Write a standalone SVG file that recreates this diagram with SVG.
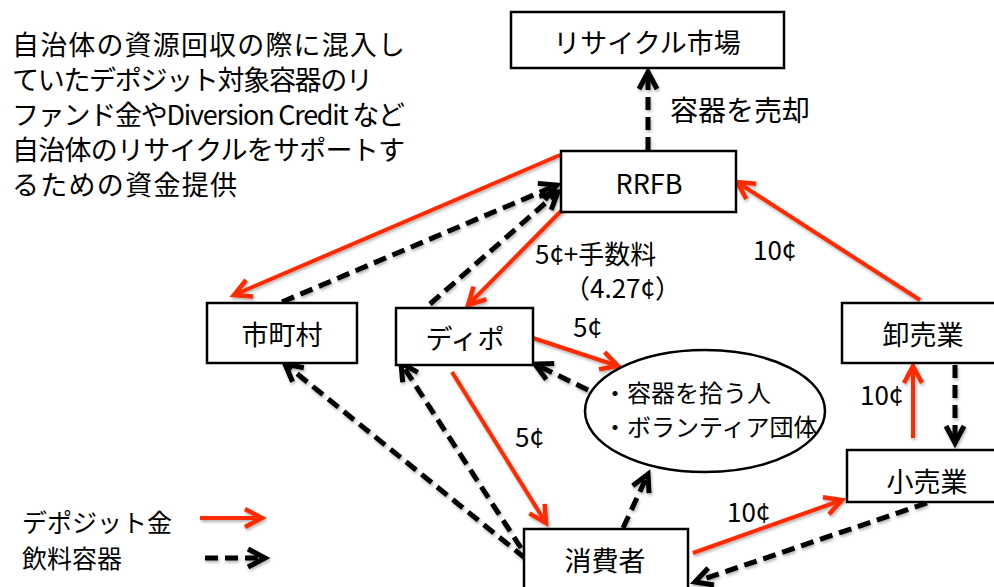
<svg xmlns="http://www.w3.org/2000/svg" width="994" height="587" viewBox="0 0 994 587">
<style>
text{font-family:"Noto Sans CJK JP","Noto Sans",sans-serif;fill:#000}
.box{fill:#fff;stroke:#000;stroke-width:2.5}
.lbl{font-size:27px;text-anchor:middle;dominant-baseline:central}
.el{font-size:24px}
.ed{font-size:26px}
.red{fill:none;stroke:#ff2a00;stroke-width:4}
.blk{fill:none;stroke:#000;stroke-width:5;stroke-dasharray:13 7}
.note{font-size:27px}
</style>
<defs>
<filter id="sh" x="-20%" y="-20%" width="140%" height="140%">
<feDropShadow dx="1" dy="2" stdDeviation="1.5" flood-color="#000" flood-opacity="0.3"/>
</filter>
<marker id="ar" markerUnits="userSpaceOnUse" markerWidth="26" markerHeight="26" refX="20" refY="11" orient="auto" overflow="visible">
<path d="M3,2 L20,11 L3,20" fill="none" stroke="#ff2a00" stroke-width="4.5" stroke-dasharray="none"/>
</marker>
<marker id="ab" markerUnits="userSpaceOnUse" markerWidth="26" markerHeight="26" refX="20" refY="11" orient="auto" overflow="visible">
<path d="M3,2 L20,11 L3,20" fill="none" stroke="#000" stroke-width="5" stroke-dasharray="none"/>
</marker>
</defs>
<rect width="994" height="587" fill="#fff"/>

<g id="note">
<text class="note" x="12" y="55" textLength="393" lengthAdjust="spacing">自治体の資源回収の際に混入し</text>
<text class="note" x="12" y="90" textLength="361" lengthAdjust="spacing">ていたデポジット対象容器のリ</text>
<text class="note" x="12" y="125" textLength="393" lengthAdjust="spacing">ファンド金やDiversion Credit など</text>
<text class="note" x="12" y="160" textLength="393" lengthAdjust="spacing">自治体のリサイクルをサポートす</text>
<text class="note" x="12" y="195" textLength="225" lengthAdjust="spacing">るための資金提供</text>
</g>

<g id="connectors" filter="url(#sh)">
<path class="red" d="M560,155 L234,295" marker-end="url(#ar)"/>
<path class="red" d="M564,208 L468,305" marker-end="url(#ar)"/>
<path class="red" d="M920,300 L737,182" marker-end="url(#ar)"/>
<path class="red" d="M533,338 L618,366" marker-end="url(#ar)"/>
<path class="red" d="M452,372 L546,523" marker-end="url(#ar)"/>
<path class="red" d="M913,438 L913,366" marker-end="url(#ar)"/>
<path class="red" d="M693,553 L842,500" marker-end="url(#ar)"/>

<path class="blk" d="M648,150 L648,72" marker-end="url(#ab)"/>
<path class="blk" d="M282,302 L557,185" marker-end="url(#ab)"/>
<path class="blk" d="M430,304 L558,192" marker-end="url(#ab)"/>
<path class="blk" d="M955,365 L955,443" marker-end="url(#ab)"/>
<path class="blk" d="M927,503 L695,582" marker-end="url(#ab)"/>
<path class="blk" d="M623,528 L648,474" marker-end="url(#ab)"/>
<path class="blk" d="M588,390 L535,364" marker-end="url(#ab)"/>
<path class="blk" d="M525,558 L285,364" marker-end="url(#ab)"/>
<path class="blk" d="M521,548 L401,363" marker-end="url(#ab)"/>

<path class="red" d="M200,518 L262,518" marker-end="url(#ar)"/>
<path class="blk" d="M205,558 L265,558" marker-end="url(#ab)"/>
</g>

<g id="market"><rect class="box" x="511" y="12" width="273" height="56"/><text class="lbl" x="647" y="41">リサイクル市場</text></g>
<g id="rrfb"><rect class="box" x="561" y="151" width="175" height="61"/><text class="lbl" x="649" y="182">RRFB</text></g>
<g id="municipality"><rect class="box" x="207" y="303" width="150" height="60"/><text class="lbl" x="282" y="333">市町村</text></g>
<g id="depot"><rect class="box" x="396" y="308" width="137" height="57"/><text class="lbl" x="465" y="337">ディポ</text></g>
<g id="wholesale"><rect class="box" x="842" y="303" width="160" height="60"/><text class="lbl" x="923" y="333">卸売業</text></g>
<g id="retail"><rect class="box" x="847" y="450" width="160" height="52"/><text class="lbl" x="927" y="480">小売業</text></g>
<g id="consumer"><rect class="box" x="524" y="529" width="164" height="70"/><text class="lbl" x="605" y="559">消費者</text></g>
<g id="pickers"><ellipse cx="705" cy="411" rx="120" ry="61" fill="#fff" stroke="#000" stroke-width="2.5"/>
<text class="el" x="603" y="402">・容器を拾う人</text>
<text class="el" x="603" y="436">・ボランティア団体</text></g>

<g id="labels">
<text style="font-size:28px" x="670" y="121">容器を売却</text>
<text class="ed" x="535" y="264">5¢+手数料</text>
<text class="ed" x="564" y="298">（4.27¢）</text>
<text class="ed" x="573" y="337">5¢</text>
<text class="ed" x="753" y="260">10¢</text>
<text class="ed" x="860" y="405">10¢</text>
<text class="ed" x="515" y="447">5¢</text>
<text class="ed" x="727" y="522">10¢</text>
</g>

<g id="legend">
<text style="font-size:25px" x="22" y="532">デポジット金</text>
<text style="font-size:25px" x="22" y="568">飲料容器</text>
</g>
</svg>
